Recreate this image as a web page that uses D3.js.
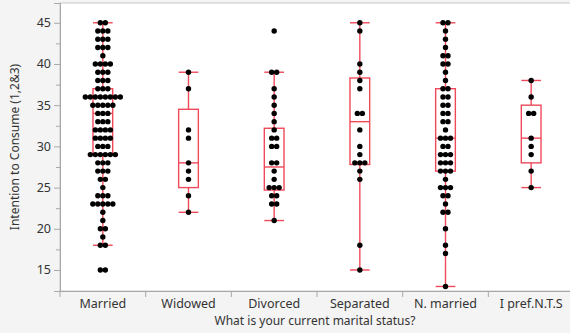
<!DOCTYPE html>
<html>
<head>
<meta charset="utf-8">
<script src="https://cdn.jsdelivr.net/npm/d3@7"></script>
<style>
  body { margin: 0; background: #f4f4f4; }
  text { font-family: "Noto Sans", "Open Sans", sans-serif; fill: #333; }
</style>
</head>
<body>
<svg id="chart"></svg>
<script>
// Categories and tick labels
const categories = ["Married", "Widowed", "Divorced", "Separated", "N. married", "I pref.N.T.S"];
const yTicks = [15, 20, 25, 30, 35, 40, 45];
const yMinorTicks = [17.5, 22.5, 27.5, 32.5, 37.5, 42.5];

// Individual responses per group
const married = [45, 45, 44, 44, 44, 43, 43, 43, 42, 42, 42, 41, 40, 40, 40, 40, 39, 39, 39,
  38, 38, 38, 37, 37, 37, 36, 36, 36, 36, 36, 36, 36, 36, 35, 35, 35, 35, 35, 34, 34, 34,
  33, 33, 33, 32, 32, 32, 32, 31, 31, 31, 31, 30, 30, 30, 29, 29, 29, 29, 29, 29, 28, 28, 28,
  27, 27, 27, 26, 26, 25, 24, 24, 24, 23, 23, 23, 23, 23, 22, 21, 20, 20, 19, 18, 18, 15, 15];
const widowed = [39, 37, 32, 31, 28, 27, 26, 24, 22];
const divorced = [44, 39, 39, 37, 36, 35, 34, 33, 32, 31, 31, 30, 30, 28, 28, 27, 26, 25, 25, 25, 24, 24, 23, 23, 21];
const separated = [45, 44, 40, 39, 38, 37, 34, 34, 32, 30, 29, 28, 28, 28, 27, 26, 18, 15];
const nMarried = [45, 45, 44, 43, 42, 41, 41, 40, 40, 39, 38, 37, 37, 36, 36, 35, 35, 34, 34,
  33, 33, 32, 31, 31, 31, 30, 30, 29, 29, 29, 28, 28, 28, 27, 27, 27, 26, 25, 25, 25, 24, 24,
  23, 22, 22, 20, 18, 17, 13];
const prefNTS = [38, 36, 34, 34, 31, 30, 29, 27, 25];

// Box plot statistics per group
const whiskerLow = [18, 22, 21, 15, 13, 25];
const quartile1 = [29, 25, 24.7, 27.8, 27, 28];
const medians = [34, 28, 27.5, 33, 31, 31];
const quartile3 = [37, 34.5, 32.2, 38.3, 37, 35];
const whiskerHigh = [45, 39, 39, 45, 45, 38];

const groups = [married, widowed, divorced, separated, nMarried, prefNTS];

const width = 570;
const height = 333;
const plotLeft = 60, plotTop = 3, plotBottom = 291, plotRight = 574;

const svg = d3.select("#chart")
    .attr("width", width)
    .attr("height", height);

const x = d3.scaleBand()
    .domain(categories)
    .range([plotLeft, plotRight])
    .padding(0);

const y = d3.scaleLinear()
    .domain([12.45, 47.4])
    .range([plotBottom, plotTop]);

// Plot background and frame
svg.append("rect")
    .attr("x", plotLeft).attr("y", plotTop)
    .attr("width", plotRight - plotLeft).attr("height", plotBottom - plotTop)
    .attr("fill", "#fff")
    .attr("stroke", "#c8c8c8");

// Y axis with major and minor ticks
const yAxis = svg.append("g")
    .attr("transform", `translate(${plotLeft},0)`)
    .call(d3.axisLeft(y).tickValues(yTicks).tickSize(6).tickPadding(3));
yAxis.select(".domain").attr("stroke", "#a8a8a8");
yAxis.selectAll(".tick line").attr("stroke", "#a8a8a8");
yAxis.selectAll(".tick text").style("font-size", "12.5px").attr("fill", "#333");

svg.append("g")
    .attr("transform", `translate(${plotLeft},0)`)
    .call(d3.axisLeft(y).tickValues(yMinorTicks).tickSize(4).tickFormat(""))
    .call(g => g.select(".domain").remove())
    .selectAll(".tick line").attr("stroke", "#a8a8a8");

// X axis: labels at band centres, separators at band edges
const xAxis = svg.append("g")
    .attr("transform", `translate(0,${plotBottom})`)
    .call(d3.axisBottom(x).tickSize(0).tickPadding(8));
xAxis.select(".domain").attr("stroke", "#a8a8a8");
xAxis.selectAll(".tick text").style("font-size", "12.5px").attr("fill", "#333");

svg.append("g")
    .selectAll("line")
    .data(categories)
    .enter()
    .append("line")
    .attr("x1", d => x(d)).attr("x2", d => x(d))
    .attr("y1", plotBottom).attr("y2", plotBottom + 6)
    .attr("stroke", "#a8a8a8");

// Axis titles
svg.append("text")
    .attr("transform", `translate(19,${(plotTop + plotBottom) / 2}) rotate(-90)`)
    .attr("text-anchor", "middle")
    .style("font-size", "12px")
    .text("Intention to Consume (1,2&3)");

svg.append("text")
    .attr("x", 315)
    .attr("y", 325)
    .attr("text-anchor", "middle")
    .style("font-size", "12px")
    .text("What is your current marital status?");

// Box plots
const boxColor = "#f04a5a";
const boxW = x.bandwidth() * 0.23;

const boxes = svg.append("g")
    .selectAll("g")
    .data(categories)
    .enter()
    .append("g")
    .attr("transform", d => `translate(${x(d) + x.bandwidth() / 2},0)`);

boxes.append("line")
    .attr("y1", (d, i) => y(whiskerHigh[i])).attr("y2", (d, i) => y(quartile3[i]))
    .attr("stroke", boxColor).attr("stroke-width", 1.4);
boxes.append("line")
    .attr("y1", (d, i) => y(quartile1[i])).attr("y2", (d, i) => y(whiskerLow[i]))
    .attr("stroke", boxColor).attr("stroke-width", 1.4);
boxes.append("line")
    .attr("x1", -boxW / 2).attr("x2", boxW / 2)
    .attr("y1", (d, i) => y(whiskerHigh[i])).attr("y2", (d, i) => y(whiskerHigh[i]))
    .attr("stroke", boxColor).attr("stroke-width", 1.4);
boxes.append("line")
    .attr("x1", -boxW / 2).attr("x2", boxW / 2)
    .attr("y1", (d, i) => y(whiskerLow[i])).attr("y2", (d, i) => y(whiskerLow[i]))
    .attr("stroke", boxColor).attr("stroke-width", 1.4);
boxes.append("rect")
    .attr("x", -boxW / 2)
    .attr("width", boxW)
    .attr("y", (d, i) => y(quartile3[i]))
    .attr("height", (d, i) => y(quartile1[i]) - y(quartile3[i]))
    .attr("fill", "none")
    .attr("stroke", boxColor).attr("stroke-width", 1.4);
boxes.append("line")
    .attr("x1", -boxW / 2).attr("x2", boxW / 2)
    .attr("y1", (d, i) => y(medians[i])).attr("y2", (d, i) => y(medians[i]))
    .attr("stroke", boxColor).attr("stroke-width", 1.4);

// Points: equal values are spread side by side around the group centre
const spacing = 5;
const points = [];
groups.forEach((vals, gi) => {
    const byValue = d3.group(vals, v => v);
    byValue.forEach((list, v) => {
        list.forEach((_, k) => {
            points.push({ cat: categories[gi], value: v, offset: (k - (list.length - 1) / 2) * spacing });
        });
    });
});

svg.append("g")
    .selectAll("circle")
    .data(points)
    .enter()
    .append("circle")
    .attr("cx", d => x(d.cat) + x.bandwidth() / 2 + d.offset)
    .attr("cy", d => y(d.value))
    .attr("r", 2.7)
    .attr("fill", "#000");
</script>
</body>
</html>
